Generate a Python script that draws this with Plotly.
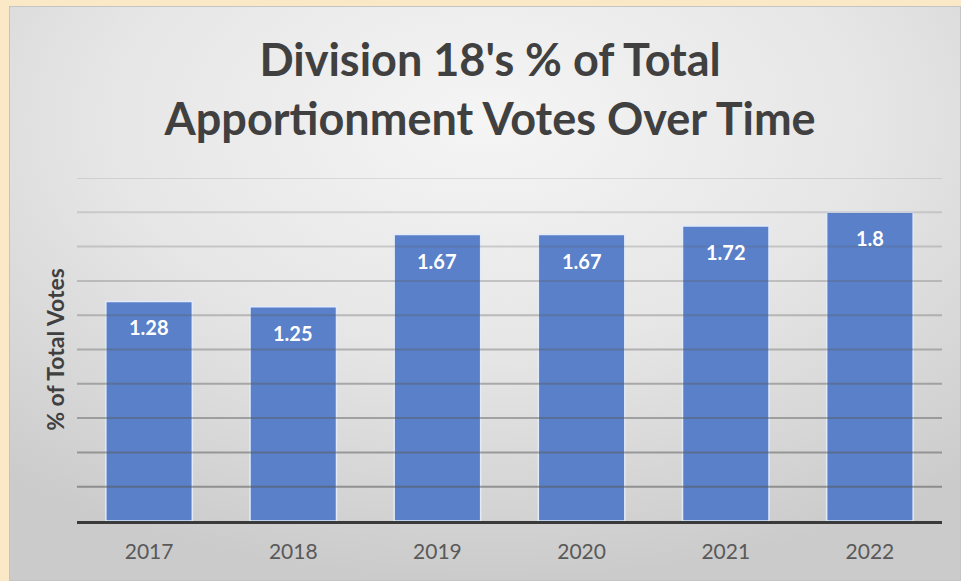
import base64
import plotly.graph_objects as go

years = ["2017", "2018", "2019", "2020", "2021", "2022"]
pct_votes = [1.28, 1.25, 1.67, 1.67, 1.72, 1.8]
label_text = ["1.28", "1.25", "1.67", "1.67", "1.72", "1.8"]
grid_values = [0.2, 0.4, 0.6, 0.8, 1.0, 1.2, 1.4, 1.6, 1.8, 2.0]

title_text = "Division 18's % of Total<br>Apportionment Votes Over Time"
y_title = "% of Total Votes"

# gradient panel as svg image
svg = """<svg xmlns='http://www.w3.org/2000/svg' width='952' height='575' viewBox='0 0 952 575' preserveAspectRatio='none'>
<defs><radialGradient id='g' cx='0.5' cy='0.2' r='0.8' gradientUnits='objectBoundingBox'>
<stop offset='0' stop-color='#f5f5f5'/><stop offset='0.5' stop-color='#e6e6e6'/><stop offset='1' stop-color='#cbcbcb'/></radialGradient></defs>
<rect x='0' y='0' width='952' height='575' fill='url(#g)'/>
<rect x='0.5' y='0.5' width='951' height='574' fill='none' stroke='#c4c4c4' stroke-width='1'/>
</svg>"""
src = "data:image/svg+xml;base64," + base64.b64encode(svg.encode()).decode()

W, H = 961, 581
L, R, T, B = 77, 19, 178, 60
pw, ph = W - L - R, H - T - B

fig = go.Figure()
fig.add_trace(go.Bar(
    x=years, y=pct_votes,
    marker=dict(color="#5a80c9", line=dict(color="#e1ebfa", width=1.5)),
    hoverinfo="skip",
))

# value labels (category index positions on the category axis)
for i, (v, t) in enumerate(zip(pct_votes, label_text)):
    fig.add_annotation(x=i, y=v, xref="x", yref="y", text="<b>%s</b>" % t,
                       showarrow=False, yshift=-26,
                       font=dict(family="Lato", size=20, color="white"))

n = len(grid_values)
for i, g in enumerate(grid_values):
    a = 0.55 - 0.4 * i / (n - 1)
    fig.add_shape(type="line", xref="paper", yref="y", x0=0, x1=1, y0=g, y1=g,
                  line=dict(color="rgba(90,90,90,%.2f)" % a, width=2), layer="above")

fig.add_layout_image(dict(
    source=src, xref="paper", yref="paper",
    x=(9 - L) / pw, y=(H - B - 6) / ph,
    sizex=(W - 9) / pw, sizey=(H - 6) / ph,
    xanchor="left", yanchor="top", sizing="stretch", layer="below",
))

fig.update_layout(
    width=W, height=H,
    margin=dict(l=L, r=R, t=T, b=B, autoexpand=False),
    paper_bgcolor="#fbe8c6",
    plot_bgcolor="rgba(0,0,0,0)",
    showlegend=False,
    bargap=0.4,
    title=dict(text="<b>%s</b>" % title_text, x=0.51, xanchor="center",
               y=0.869, yanchor="middle",
               font=dict(family="Lato", size=45, color="#404040")),
    xaxis=dict(type="category", range=[-0.5, 5.5],
               showgrid=False, showline=True, linecolor="#3a3a3a", linewidth=3,
               ticks="", ticklabelstandoff=10,
               tickfont=dict(family="Lato", size=21, color="#595959")),
    yaxis=dict(range=[0, 2.0], showgrid=False, showticklabels=False, zeroline=False,
               title=dict(text="<b>%s</b>" % y_title, standoff=4,
                          font=dict(family="Lato", size=23, color="#404040"))),
)

fig.write_html("out.html")
